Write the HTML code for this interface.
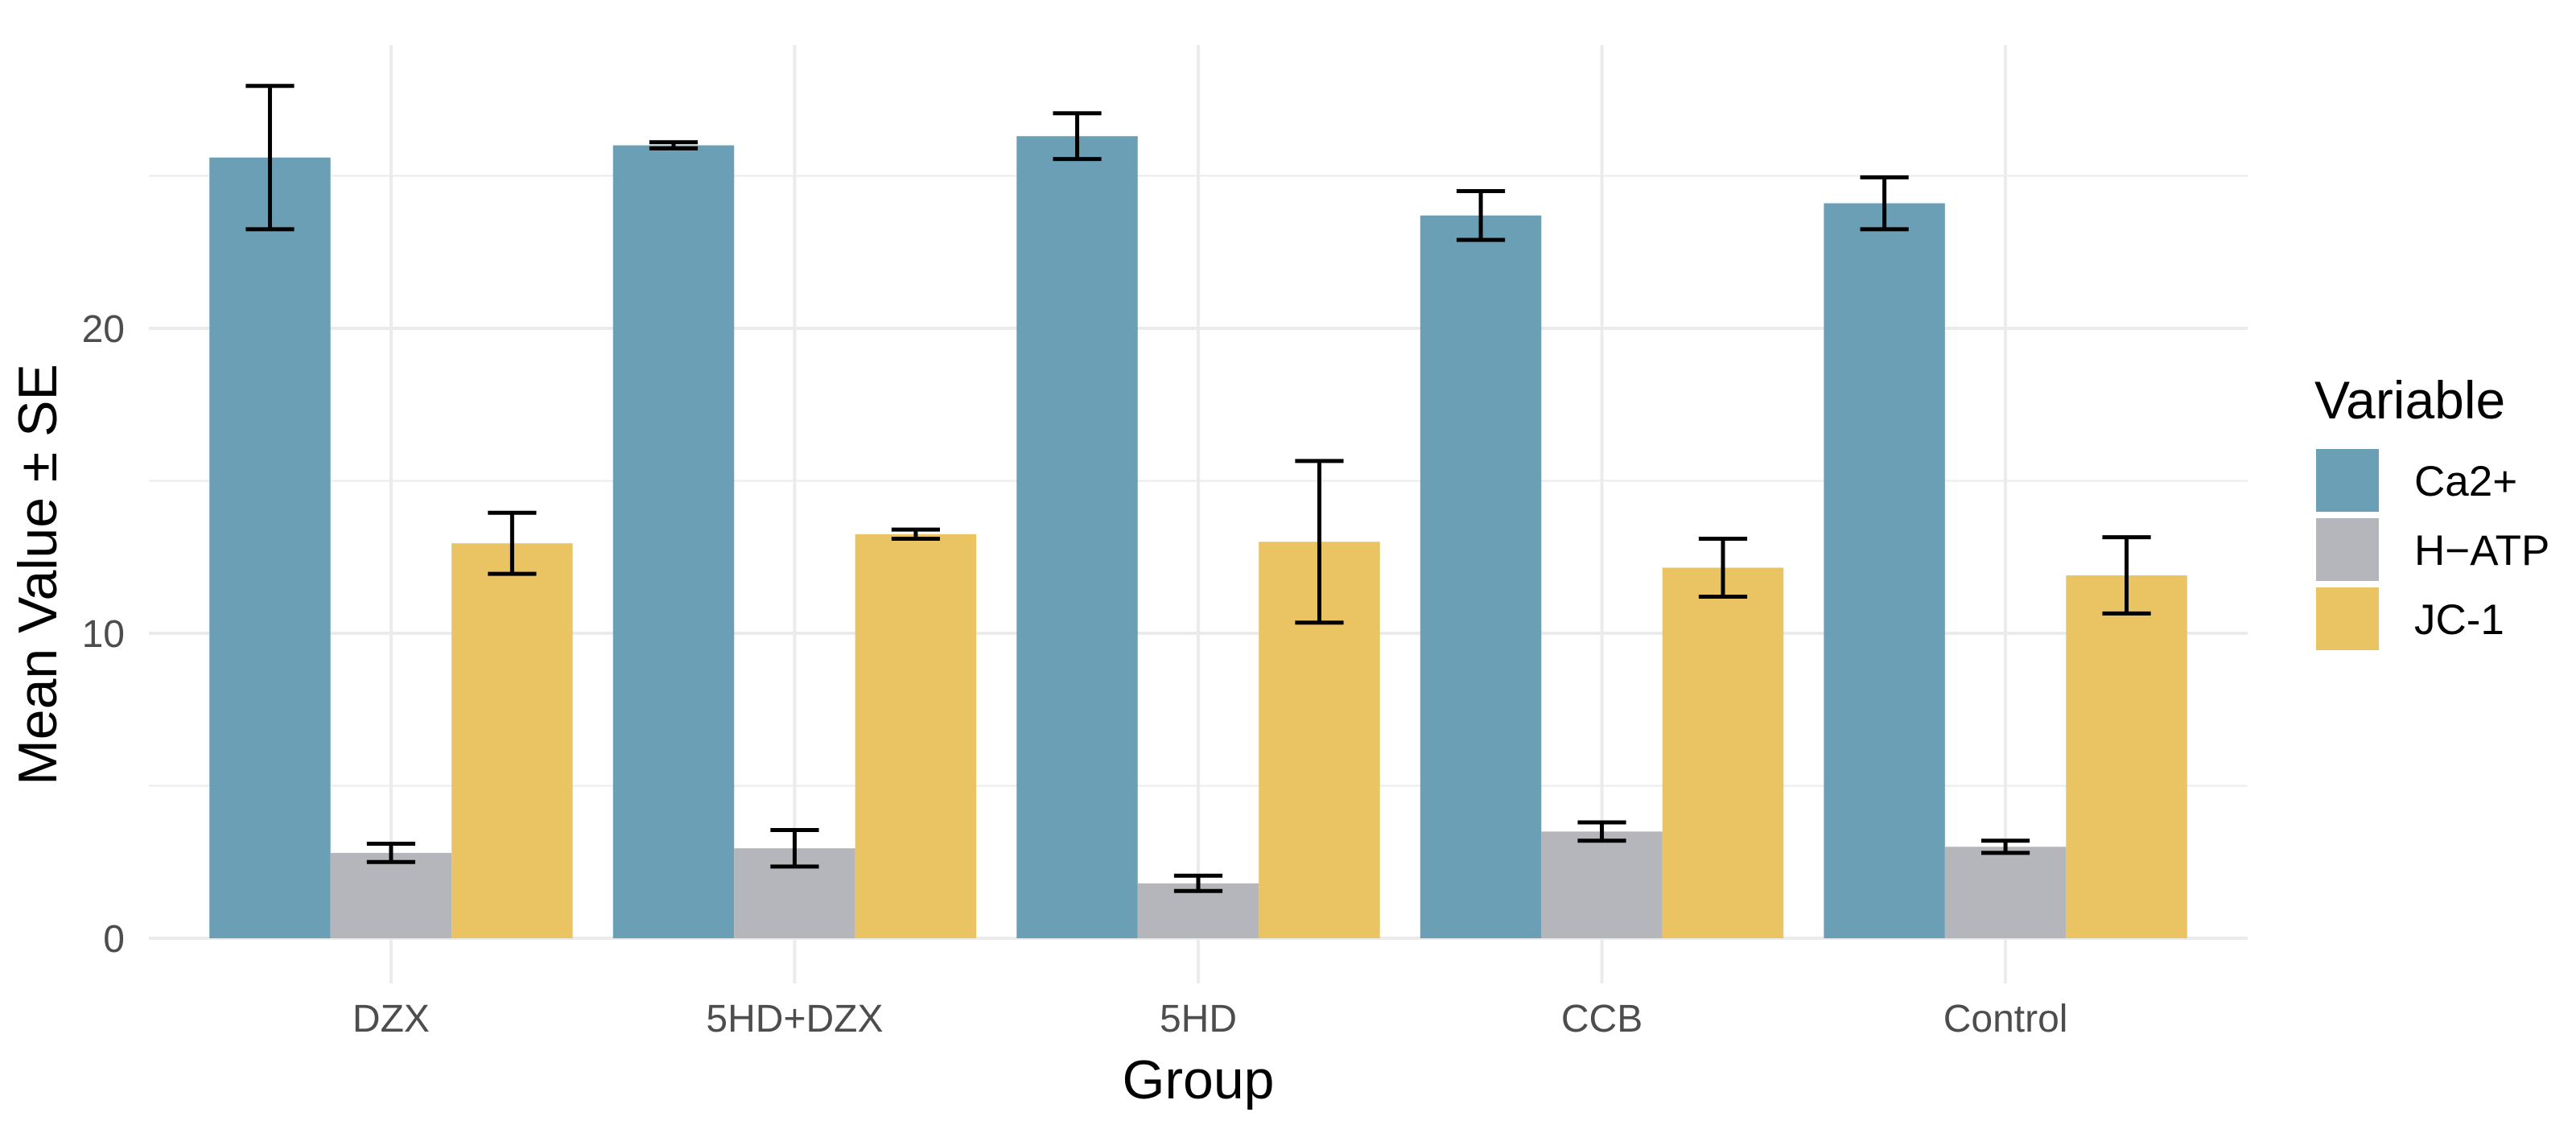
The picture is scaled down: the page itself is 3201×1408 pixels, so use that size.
<!DOCTYPE html>
<html><head><meta charset="utf-8"><style>
body{margin:0;background:#fff;}
svg{display:block;font-family:"Liberation Sans",Arial,sans-serif;}
</style></head><body>
<svg id="c" width="3201" height="1408" viewBox="0 0 3201 1408"></svg>
<script>
const groups=["DZX","5HD+DZX","5HD","CCB","Control"];
const variables=["Ca2+","H\u2212ATP","JC-1"];
const colors=["#6a9fb5","#b4b6bb","#eac363"];
const ca=[25.6,26.0,26.3,23.7,24.1];
const caSE=[2.35,0.1,0.75,0.8,0.85];
const hatp=[2.8,2.95,1.8,3.5,3.0];
const hatpSE=[0.3,0.6,0.25,0.3,0.2];
const jc=[12.95,13.25,13.0,12.15,11.9];
const jcSE=[1.0,0.15,2.65,0.95,1.25];
const yTicks=[0,10,20];
const yMinor=[5,15,25];

const NS="http://www.w3.org/2000/svg";
const svg=document.getElementById('c');
function el(t,a,p){const e=document.createElementNS(NS,t);for(const k in a)e.setAttribute(k,a[k]);(p||svg).appendChild(e);return e;}
const L=185,R=2793,T=56,B=1222;
const y0=1166,perUnit=(1166-408)/20;
const y=v=>y0-v*perUnit;
const step=(R-L)/(groups.length-1+1.2);
const x=i=>L+step*(0.6+i);
const bw=step*0.9/3;

yMinor.forEach(v=>{const g=el('line',{x1:L,x2:R,y1:y(v),y2:y(v),stroke:'#ebebeb','stroke-width':2});
});
yTicks.forEach(v=>{const g=el('line',{x1:L,x2:R,y1:y(v),y2:y(v),stroke:'#ebebeb','stroke-width':4});

const t=el('text',{x:155,y:y(v)+17,'text-anchor':'end','font-size':48,fill:'#4d4d4d'});t.textContent=v;
});
groups.forEach((g,i)=>{const l=el('line',{x1:x(i),x2:x(i),y1:T,y2:B,stroke:'#ebebeb','stroke-width':4});

const t=el('text',{x:x(i),y:1282,'text-anchor':'middle','font-size':48,fill:'#4d4d4d'});t.textContent=g;
});

const series=[[ca,caSE],[hatp,hatpSE],[jc,jcSE]];
series.forEach((s,k)=>{groups.forEach((g,i)=>{
 const cx=x(i)+(k-1)*bw;const v=s[0][i],e=s[1][i];
 const r=el('rect',{x:cx-bw/2,y:y(v),width:bw,height:y(0)-y(v),fill:colors[k]});
 
 const eg=el('g',{stroke:'#000','stroke-width':5});
 
 const cw=bw*0.2;
 el('line',{x1:cx,x2:cx,y1:y(v+e),y2:y(v-e)},eg);
 el('line',{x1:cx-cw,x2:cx+cw,y1:y(v+e),y2:y(v+e)},eg);
 el('line',{x1:cx-cw,x2:cx+cw,y1:y(v-e),y2:y(v-e)},eg);
});});

let t=el('text',{x:(L+R)/2,y:1365,'text-anchor':'middle','font-size':68,fill:'#000'});t.textContent='Group';

t=el('text',{x:0,y:0,'text-anchor':'middle','font-size':68,fill:'#000',transform:'translate(70,714) rotate(-90)'});t.textContent='Mean Value \u00b1 SE';


const lg=el('g',{});

t=el('text',{x:2876,y:520,'font-size':66,fill:'#000'},lg);t.textContent='Variable';

variables.forEach((v,k)=>{const yy=558+k*86;
 const r=el('rect',{x:2878,y:yy,width:78,height:78,fill:colors[k]},lg);
 
 const tt=el('text',{x:3000,y:yy+58,'font-size':53,fill:'#000'},lg);tt.textContent=v;
 
});
</script>
</body></html>
